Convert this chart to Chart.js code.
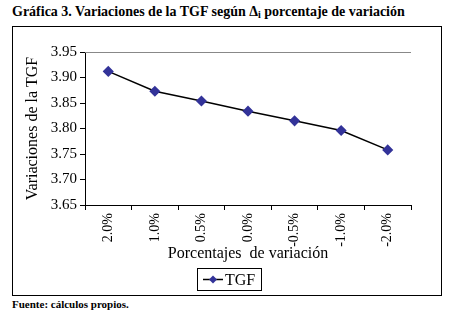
<!DOCTYPE html>
<html>
<head>
<meta charset="utf-8">
<script src="https://cdn.jsdelivr.net/npm/chart.js@4"></script>
<style>
    body { margin: 0; background: #fff; width: 451px; height: 317px; position: relative; font-family: "Liberation Serif", "Times New Roman", serif; }
    .title { position: absolute; left: 12px; top: 4px; font-size: 14px; font-weight: bold; color: #000; white-space: nowrap; }
    .title sub { font-size: 10px; vertical-align: -2px; }
    .frame { position: absolute; left: 12px; top: 26px; width: 428px; height: 268px; border: 1px solid #000; }
    .foot { position: absolute; left: 12px; top: 298px; font-size: 11px; font-weight: bold; color: #000; }
</style>
</head>
<body>
<div class="title">Gráfica 3. Variaciones de la TGF según Δ<sub>i</sub> porcentaje de variación</div>
<div class="frame"><canvas id="tgfChart" width="428" height="268"></canvas></div>
<div class="foot">Fuente: cálculos propios.</div>
<script>
const categories = ['2.0%', '1.0%', '0.5%', '0.0%', '-0.5%', '-1.0%', '-2.0%'];
const tgfValues = [3.912, 3.873, 3.854, 3.834, 3.815, 3.796, 3.758];
const yTicks = [3.65, 3.70, 3.75, 3.80, 3.85, 3.90, 3.95];

const serif = "'Liberation Serif', 'Times New Roman', serif";
Chart.defaults.font.family = serif;
Chart.defaults.color = '#000';

// top border of the plot area (grey) and the boxed legend
const framePlugin = {
    id: 'framePlugin',
    afterDraw(chart) {
        const ctx = chart.ctx;
        const area = chart.chartArea;
        ctx.save();
        ctx.strokeStyle = '#888';
        ctx.lineWidth = 1;
        ctx.beginPath();
        ctx.moveTo(area.left, area.top + 0.5);
        ctx.lineTo(area.right, area.top + 0.5);
        ctx.stroke();

        // legend
        const bx = 184, by = 241, bw = 64, bh = 22;
        ctx.strokeStyle = '#000';
        ctx.strokeRect(bx + 0.5, by + 0.5, bw, bh);
        const ly = by + bh / 2 + 0.5;
        ctx.beginPath();
        ctx.lineWidth = 1.5;
        ctx.moveTo(bx + 6, ly);
        ctx.lineTo(bx + 26, ly);
        ctx.stroke();
        ctx.fillStyle = '#333399';
        ctx.beginPath();
        ctx.moveTo(bx + 16, ly - 4);
        ctx.lineTo(bx + 20, ly);
        ctx.lineTo(bx + 16, ly + 4);
        ctx.lineTo(bx + 12, ly);
        ctx.closePath();
        ctx.fill();
        ctx.fillStyle = '#000';
        ctx.font = '16px ' + serif;
        ctx.textBaseline = 'middle';
        ctx.fillText(chart.data.datasets[0].label, bx + 28, ly + 1);
        ctx.restore();
    }
};

function drawChart() {
    const ctx = document.getElementById('tgfChart').getContext('2d');
    new Chart(ctx, {
        type: 'line',
        data: {
            labels: categories,
            datasets: [{
                label: 'TGF',
                data: tgfValues,
                borderColor: '#000',
                borderWidth: 1.5,
                pointStyle: 'rectRot',
                pointRadius: 4.5,
                pointBackgroundColor: '#333399',
                pointBorderColor: '#333399',
                tension: 0
            }]
        },
        options: {
            responsive: false,
            animation: false,
            layout: {
                padding: { left: 0, top: 25, right: 30, bottom: 32 }
            },
            plugins: {
                legend: { display: false },
                tooltip: { enabled: false }
            },
            scales: {
                x: {
                    offset: true,
                    afterFit(scale) { scale.height = 58; },
                    grid: {
                        offset: true,
                        drawOnChartArea: false,
                        drawTicks: true,
                        tickLength: 5,
                        color: '#000'
                    },
                    border: { color: '#000', width: 1 },
                    ticks: {
                        color: '#000',
                        font: { family: serif, size: 14 },
                        minRotation: 90,
                        maxRotation: 90,
                        padding: 3
                    },
                    title: {
                        display: true,
                        text: 'Porcentajes  de variación',
                        color: '#000',
                        font: { family: serif, size: 16 },
                        padding: { top: 0, bottom: 0 }
                    }
                },
                y: {
                    min: 3.65,
                    max: 3.95,
                    afterFit(scale) { scale.width = 72; },
                    afterBuildTicks(scale) {
                        scale.ticks = yTicks.map(v => ({ value: v }));
                    },
                    grid: {
                        drawOnChartArea: false,
                        drawTicks: true,
                        tickLength: 5,
                        color: '#000'
                    },
                    border: { color: '#000', width: 1 },
                    ticks: {
                        color: '#000',
                        font: { family: serif, size: 15 },
                        padding: 3,
                        callback: v => v.toFixed(2)
                    },
                    title: {
                        display: true,
                        text: 'Variaciones de la TGF',
                        color: '#000',
                        font: { family: serif, size: 16 },
                        padding: { top: 10, bottom: 0 }
                    }
                }
            }
        },
        plugins: [framePlugin]
    });
}

// wait for the serif face so the canvas text is not drawn in the fallback font
Promise.all([
    document.fonts.load("15px 'Liberation Serif'"),
    document.fonts.load("bold 14px 'Liberation Serif'")
]).then(drawChart, drawChart);
</script>
</body>
</html>
